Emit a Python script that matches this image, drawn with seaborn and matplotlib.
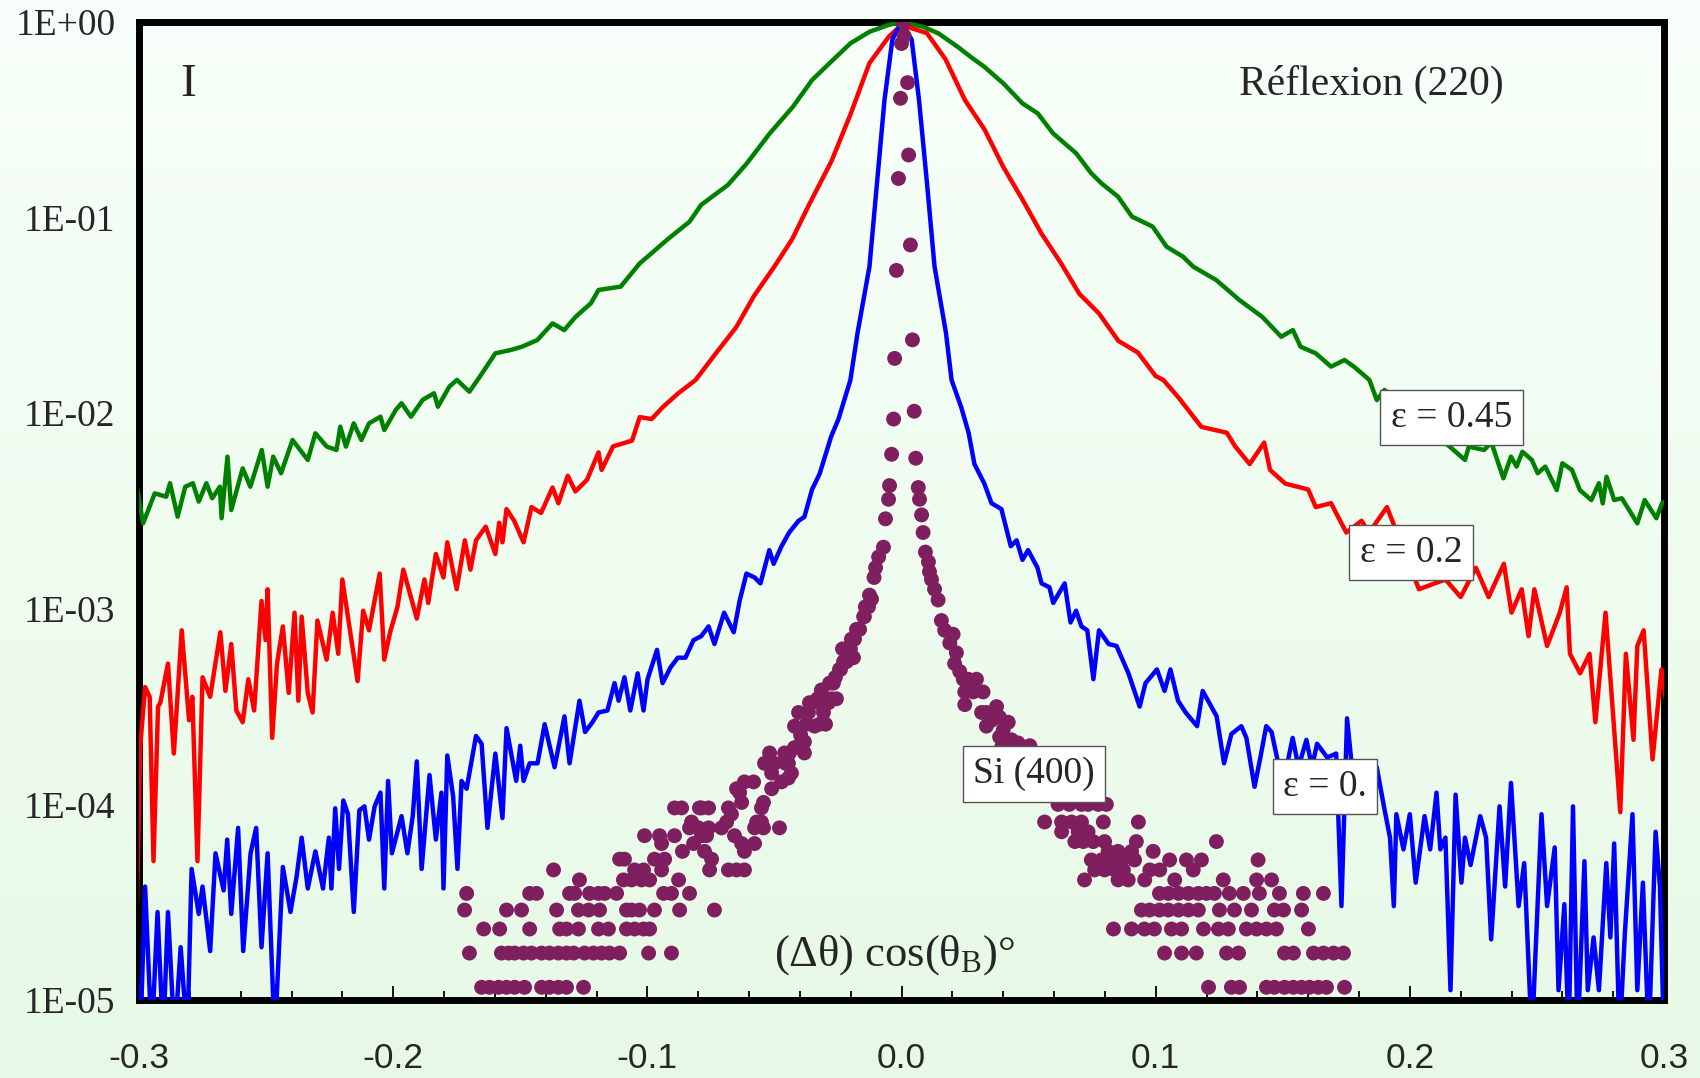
import numpy as np
import pandas as pd
import matplotlib
matplotlib.use("Agg")
import matplotlib.pyplot as plt
import seaborn as sns
from matplotlib.colors import LinearSegmentedColormap
from matplotlib.ticker import FixedLocator, MultipleLocator, NullLocator

# ---------------- data (x = (dtheta) cos(thetaB) in degrees, values = log10 of intensity) -------------
green_pts = [
    (-0.3006, -2.393), (-0.2984, -2.563), (-0.2938, -2.410), (-0.2893, -2.427), (-0.2878, -2.358),
    (-0.2848, -2.529), (-0.2818, -2.376), (-0.2788, -2.358), (-0.2765, -2.452), (-0.2735, -2.358),
    (-0.2712, -2.435), (-0.2682, -2.376), (-0.2675, -2.537), (-0.2652, -2.222), (-0.2637, -2.495),
    (-0.2592, -2.282), (-0.2562, -2.376), (-0.2517, -2.188), (-0.2494, -2.376), (-0.2472, -2.222),
    (-0.2441, -2.307), (-0.2396, -2.137), (-0.2336, -2.239), (-0.2306, -2.103), (-0.2261, -2.171),
    (-0.2223, -2.188), (-0.2208, -2.069), (-0.2186, -2.171), (-0.2155, -2.052), (-0.2125, -2.137),
    (-0.2095, -2.052), (-0.2050, -2.018), (-0.2035, -2.086), (-0.1990, -1.984), (-0.1967, -1.949),
    (-0.1930, -2.018), (-0.1884, -1.932), (-0.1839, -1.898), (-0.1824, -1.967), (-0.1779, -1.864),
    (-0.1749, -1.830), (-0.1700, -1.890), (-0.1659, -1.813), (-0.1598, -1.694), (-0.1538, -1.677),
    (-0.1493, -1.660), (-0.1433, -1.626), (-0.1373, -1.541), (-0.1327, -1.575), (-0.1282, -1.507),
    (-0.1222, -1.438), (-0.1192, -1.370), (-0.1105, -1.353), (-0.1030, -1.234), (-0.0984, -1.183),
    (-0.0924, -1.115), (-0.0834, -1.021), (-0.0789, -0.936), (-0.0683, -0.833), (-0.0608, -0.722),
    (-0.0518, -0.569), (-0.0427, -0.433), (-0.0352, -0.297), (-0.0277, -0.203), (-0.0201, -0.109),
    (-0.0126, -0.050), (-0.0051, -0.015), (0.0000, 0.000), (0.0085, -0.024), (0.0145, -0.058),
    (0.0220, -0.126), (0.0280, -0.186), (0.0325, -0.228), (0.0400, -0.313), (0.0476, -0.416),
    (0.0536, -0.467), (0.0596, -0.569), (0.0687, -0.671), (0.0747, -0.774), (0.0787, -0.825),
    (0.0852, -0.893), (0.0907, -0.995), (0.0988, -1.046), (0.1043, -1.149), (0.1108, -1.200),
    (0.1148, -1.251), (0.1238, -1.319), (0.1329, -1.421), (0.1419, -1.507), (0.1494, -1.609),
    (0.1540, -1.575), (0.1570, -1.660), (0.1630, -1.694), (0.1690, -1.762), (0.1743, -1.728),
    (0.1780, -1.762), (0.1841, -1.830), (0.1870, -1.933), (0.1900, -1.881), (0.2217, -2.239),
    (0.2232, -2.171), (0.2292, -2.188), (0.2321, -2.150), (0.2368, -2.333), (0.2398, -2.222),
    (0.2420, -2.273), (0.2443, -2.197), (0.2480, -2.239), (0.2503, -2.307), (0.2533, -2.273),
    (0.2578, -2.393), (0.2600, -2.256), (0.2638, -2.290), (0.2669, -2.393), (0.2714, -2.444),
    (0.2744, -2.358), (0.2759, -2.461), (0.2774, -2.325), (0.2804, -2.444), (0.2834, -2.435),
    (0.2895, -2.563), (0.2924, -2.444), (0.2970, -2.537), (0.2992, -2.461), (0.3015, -2.444),
    (0.3030, -2.610),
]

red_pts = [
    (-0.3008, -4.50), (-0.2995, -3.70), (-0.2976, -3.40), (-0.2958, -3.45), (-0.2943, -4.29),
    (-0.2925, -3.50), (-0.2916, -3.48), (-0.2886, -3.28), (-0.2863, -3.74), (-0.2832, -3.11),
    (-0.2803, -3.57), (-0.2790, -3.45), (-0.2770, -4.29), (-0.2750, -3.35), (-0.2720, -3.45),
    (-0.2680, -3.12), (-0.2660, -3.42), (-0.2637, -3.18), (-0.2617, -3.52), (-0.2592, -3.58),
    (-0.2570, -3.36), (-0.2547, -3.52), (-0.2518, -2.96), (-0.2502, -3.16), (-0.2494, -2.90),
    (-0.2476, -3.66), (-0.2457, -3.28), (-0.2434, -3.09), (-0.2411, -3.43), (-0.2388, -3.02),
    (-0.2373, -3.47), (-0.2360, -3.04), (-0.2336, -3.43), (-0.2317, -3.53), (-0.2298, -3.06),
    (-0.2262, -3.26), (-0.2238, -3.02), (-0.2216, -3.23), (-0.2200, -2.85), (-0.2178, -3.04),
    (-0.2140, -3.37), (-0.2118, -3.01), (-0.2095, -3.11), (-0.2053, -2.82), (-0.2035, -3.26),
    (-0.2012, -3.12), (-0.1983, -2.99), (-0.1960, -2.80), (-0.1907, -3.05), (-0.1877, -2.85),
    (-0.1862, -2.97), (-0.1832, -2.72), (-0.1802, -2.84), (-0.1787, -2.66), (-0.1750, -2.90),
    (-0.1718, -2.65), (-0.1696, -2.80), (-0.1674, -2.65), (-0.1636, -2.58), (-0.1598, -2.72),
    (-0.1583, -2.56), (-0.1570, -2.66), (-0.1554, -2.49), (-0.1524, -2.55), (-0.1487, -2.66),
    (-0.1456, -2.48), (-0.1418, -2.51), (-0.1373, -2.38), (-0.1350, -2.46), (-0.1313, -2.32),
    (-0.1283, -2.40), (-0.1237, -2.34), (-0.1192, -2.20), (-0.1180, -2.29), (-0.1135, -2.17),
    (-0.1060, -2.14), (-0.1030, -2.02), (-0.0983, -2.03), (-0.0940, -1.97), (-0.0880, -1.90),
    (-0.0810, -1.83), (-0.0728, -1.69), (-0.0650, -1.56), (-0.0580, -1.40), (-0.0500, -1.25),
    (-0.0430, -1.11), (-0.0366, -0.94), (-0.0275, -0.71), (-0.0200, -0.47), (-0.0126, -0.21),
    (-0.0050, -0.075), (0.0000, -0.015), (0.0100, -0.057), (0.0173, -0.19), (0.0250, -0.40),
    (0.0327, -0.55), (0.0400, -0.74), (0.0477, -0.91), (0.0550, -1.08), (0.0626, -1.23),
    (0.0700, -1.39), (0.0777, -1.49), (0.0853, -1.63), (0.0930, -1.69), (0.1000, -1.81),
    (0.1030, -1.83), (0.1090, -1.92), (0.1180, -2.07), (0.1280, -2.10), (0.1313, -2.17),
    (0.1370, -2.26), (0.1427, -2.15), (0.1450, -2.29), (0.1510, -2.36), (0.1600, -2.39),
    (0.1630, -2.48), (0.1690, -2.46), (0.1750, -2.61), (0.1810, -2.55), (0.1840, -2.61),
    (0.1910, -2.48), (0.2036, -2.90), (0.2140, -2.85), (0.2200, -2.94), (0.2260, -2.79),
    (0.2310, -2.94), (0.2370, -2.77), (0.2400, -3.02), (0.2440, -2.90), (0.2467, -3.14),
    (0.2490, -2.90), (0.2540, -3.19), (0.2590, -3.02), (0.2617, -2.89), (0.2630, -3.23),
    (0.2670, -3.33), (0.2707, -3.23), (0.2730, -3.58), (0.2770, -3.02), (0.2828, -4.04),
    (0.2850, -3.23), (0.2880, -3.67), (0.2895, -3.19), (0.2920, -3.11), (0.2955, -3.77),
    (0.2990, -3.31), (0.3015, -3.53),
]

blue_pts = [
    (-0.3014, -4.73), (-0.2995, -5.20), (-0.2976, -4.42), (-0.2950, -5.20), (-0.2927, -4.55),
    (-0.2905, -5.20), (-0.2886, -4.55), (-0.2860, -5.20), (-0.2836, -4.73), (-0.2810, -5.20),
    (-0.2793, -4.33), (-0.2765, -4.56), (-0.2750, -4.42), (-0.2720, -4.75), (-0.2699, -4.25),
    (-0.2667, -4.44), (-0.2653, -4.18), (-0.2637, -4.56), (-0.2610, -4.12), (-0.2590, -4.75),
    (-0.2561, -4.25), (-0.2539, -4.12), (-0.2518, -4.73), (-0.2494, -4.25), (-0.2466, -5.20),
    (-0.2434, -4.32), (-0.2404, -4.55), (-0.2380, -4.37), (-0.2360, -4.17), (-0.2336, -4.43),
    (-0.2306, -4.24), (-0.2276, -4.43), (-0.2253, -4.17), (-0.2243, -4.43), (-0.2228, -4.02),
    (-0.2213, -4.33), (-0.2196, -3.98), (-0.2178, -4.05), (-0.2155, -4.55), (-0.2133, -4.03),
    (-0.2113, -4.01), (-0.2095, -4.18), (-0.2073, -4.01), (-0.2050, -3.94), (-0.2035, -4.43),
    (-0.2020, -3.88), (-0.2005, -4.25), (-0.1967, -4.06), (-0.1944, -4.25), (-0.1923, -4.06),
    (-0.1907, -3.78), (-0.1888, -4.33), (-0.1857, -3.85), (-0.1832, -4.18), (-0.1810, -3.94),
    (-0.1802, -4.43), (-0.1787, -3.75), (-0.1764, -3.96), (-0.1747, -4.33), (-0.1731, -3.88),
    (-0.1711, -3.92), (-0.1674, -3.65), (-0.1652, -3.69), (-0.1629, -4.12), (-0.1598, -3.74),
    (-0.1570, -4.07), (-0.1554, -3.61), (-0.1516, -3.88), (-0.1500, -3.70), (-0.1487, -3.88),
    (-0.1463, -3.79), (-0.1432, -3.79), (-0.1404, -3.59), (-0.1365, -3.81), (-0.1326, -3.55),
    (-0.1306, -3.79), (-0.1267, -3.47), (-0.1245, -3.63), (-0.1216, -3.58), (-0.1192, -3.53),
    (-0.1157, -3.52), (-0.1129, -3.38), (-0.1113, -3.47), (-0.1090, -3.35), (-0.1067, -3.52),
    (-0.1038, -3.33), (-0.1015, -3.52), (-0.0999, -3.36), (-0.0962, -3.21), (-0.0940, -3.38),
    (-0.0909, -3.30), (-0.0880, -3.25), (-0.0850, -3.25), (-0.0818, -3.16), (-0.0788, -3.14),
    (-0.0759, -3.09), (-0.0736, -3.18), (-0.0698, -3.02), (-0.0660, -3.12), (-0.0637, -2.96),
    (-0.0610, -2.82), (-0.0578, -2.84), (-0.0555, -2.87), (-0.0520, -2.70), (-0.0503, -2.77),
    (-0.0472, -2.68), (-0.0442, -2.61), (-0.0405, -2.55), (-0.0382, -2.53), (-0.0352, -2.39),
    (-0.0322, -2.31), (-0.0277, -2.12), (-0.0248, -2.03), (-0.0201, -1.83), (-0.0173, -1.59),
    (-0.0126, -1.25), (-0.0096, -0.82), (-0.0067, -0.40), (-0.0036, -0.09), (0.0000, 0.00),
    (0.0040, -0.09), (0.0069, -0.40), (0.0100, -0.82), (0.0130, -1.25), (0.0175, -1.59),
    (0.0197, -1.83), (0.0235, -1.97), (0.0264, -2.10), (0.0287, -2.26), (0.0326, -2.36),
    (0.0354, -2.46), (0.0393, -2.49), (0.0430, -2.68), (0.0453, -2.65), (0.0476, -2.75),
    (0.0498, -2.70), (0.0535, -2.79), (0.0551, -2.87), (0.0582, -2.89), (0.0597, -2.97),
    (0.0642, -2.87), (0.0665, -3.07), (0.0687, -3.01), (0.0708, -3.09), (0.0731, -3.11),
    (0.0755, -3.36), (0.0777, -3.11), (0.0815, -3.18), (0.0846, -3.19), (0.0893, -3.33),
    (0.0937, -3.50), (0.0960, -3.38), (0.1005, -3.31), (0.1035, -3.42), (0.1058, -3.31),
    (0.1088, -3.47), (0.1118, -3.53), (0.1163, -3.60), (0.1185, -3.42), (0.1240, -3.55),
    (0.1269, -3.79), (0.1298, -3.64), (0.1337, -3.60), (0.1357, -3.66), (0.1389, -3.91),
    (0.1412, -3.76), (0.1435, -3.60), (0.1456, -3.63), (0.1479, -3.77), (0.1510, -3.84),
    (0.1539, -3.66), (0.1562, -3.81), (0.1593, -3.67), (0.1615, -3.81), (0.1635, -3.69),
    (0.1675, -3.76), (0.1710, -3.74), (0.1731, -4.52), (0.1753, -3.56), (0.1780, -3.91),
    (0.1870, -3.81), (0.1898, -4.01), (0.1922, -4.17), (0.1937, -4.52), (0.1947, -4.05),
    (0.1975, -4.23), (0.2000, -4.05), (0.2023, -4.40), (0.2058, -4.06), (0.2080, -4.23),
    (0.2105, -3.94), (0.2120, -4.23), (0.2140, -4.17), (0.2160, -4.95), (0.2180, -3.95),
    (0.2203, -4.40), (0.2217, -4.17), (0.2239, -4.31), (0.2277, -4.06), (0.2300, -4.17),
    (0.2320, -4.69), (0.2353, -4.01), (0.2375, -4.42), (0.2398, -3.89), (0.2428, -4.52),
    (0.2450, -4.30), (0.2480, -5.20), (0.2518, -4.05), (0.2540, -4.52), (0.2570, -4.22),
    (0.2585, -4.95), (0.2608, -4.51), (0.2625, -5.20), (0.2642, -4.01), (0.2660, -5.20),
    (0.2687, -4.29), (0.2700, -4.95), (0.2723, -4.68), (0.2744, -4.95), (0.2773, -4.30),
    (0.2789, -4.68), (0.2804, -4.20), (0.2825, -5.20), (0.2846, -4.66), (0.2876, -4.05),
    (0.2895, -4.95), (0.2917, -4.40), (0.2940, -5.20), (0.2967, -4.14), (0.2984, -4.42),
    (0.3000, -5.20),
]

# Si (400) reference: individually read dots (x, log10 I)
si_pts = [
    (0.0007, 0.00), (0.0000, -0.11), (-0.0004, -0.39), (-0.0012, -0.80), (-0.0020, -1.27),
    (-0.0027, -1.72), (-0.0031, -2.03), (-0.0039, -2.21), (-0.0047, -2.37), (-0.0051, -2.44),
    (-0.0063, -2.54), (-0.0071, -2.685), (-0.0090, -2.735), (-0.0102, -2.79), (-0.0108, -2.84),
    (-0.0118, -2.95), (-0.0126, -2.93), (-0.0130, -2.99), (-0.0142, -2.99), (-0.0146, -3.04),
    (-0.0149, -3.04), (-0.0165, -3.105), (-0.0177, -3.105), (-0.0185, -3.155), (-0.0197, -3.155),
    (-0.0189, -3.25), (-0.0201, -3.205), (-0.0216, -3.205), (-0.0232, -3.205), (-0.0216, -3.27),
    (-0.0228, -3.27), (-0.0240, -3.31), (-0.0244, -3.31), (-0.0260, -3.35), (-0.0268, -3.38),
    (-0.0283, -3.38), (-0.0315, -3.415), (-0.0256, -3.46), (-0.0275, -3.46), (-0.0330, -3.46),
    (-0.0287, -3.48), (-0.0327, -3.48), (-0.0362, -3.48), (-0.0307, -3.53), (-0.0366, -3.53),
    (-0.0405, -3.53), (-0.0299, -3.59), (-0.0323, -3.59), (-0.0374, -3.59), (-0.0342, -3.60),
    (-0.0421, -3.60), (-0.0397, -3.645), (-0.0382, -3.68), (-0.0393, -3.68), (-0.0421, -3.71),
    (-0.0382, -3.737), (-0.0441, -3.737), (-0.0460, -3.737), (-0.0519, -3.737), (-0.0445, -3.79),
    (-0.0456, -3.79), (-0.0500, -3.79), (-0.0523, -3.79), (-0.0539, -3.79), (-0.0433, -3.84),
    (-0.0511, -3.84), (-0.0445, -3.865), (-0.0472, -3.885), (-0.0582, -3.885), (-0.0618, -3.885),
    (-0.0511, -3.92), (-0.0649, -3.92), (-0.0637, -3.94), (-0.0543, -3.99), (-0.0629, -3.99),
    (-0.0551, -4.018), (-0.0681, -4.018), (-0.0759, -4.018), (-0.0787, -4.018), (-0.0795, -4.018),
    (-0.0865, -4.018), (-0.0893, -4.018), (-0.0669, -4.05), (-0.0551, -4.09), (-0.0570, -4.09),
    (-0.0688, -4.09), (-0.0826, -4.09), (-0.0480, -4.12), (-0.0543, -4.12), (-0.0578, -4.12),
    (-0.0708, -4.12), (-0.0759, -4.12), (-0.0799, -4.12), (-0.0834, -4.12), (-0.0657, -4.16),
    (-0.0767, -4.16), (-0.0787, -4.16), (-0.0893, -4.16), (-0.0952, -4.16), (-0.1011, -4.16),
    (-0.0578, -4.20), (-0.0629, -4.20), (-0.0818, -4.20), (-0.0944, -4.20), (-0.0618, -4.24),
    (-0.0775, -4.24), (-0.0862, -4.24), (-0.0747, -4.28), (-0.0932, -4.28), (-0.0972, -4.28),
    (-0.1090, -4.28), (-0.1109, -4.28),
    (0.0010, -0.07), (0.0024, -0.31), (0.0028, -0.68), (0.0035, -1.14), (0.0043, -1.625),
    (0.0050, -1.99), (0.0056, -2.23), (0.0066, -2.38), (0.0071, -2.44), (0.0079, -2.52),
    (0.0085, -2.61), (0.0094, -2.71), (0.0106, -2.76), (0.0110, -2.81), (0.0118, -2.85),
    (0.0130, -2.90), (0.0144, -2.955), (0.0157, -3.06), (0.0170, -3.11), (0.0203, -3.13),
    (0.0190, -3.175), (0.0216, -3.225), (0.0209, -3.28), (0.0229, -3.32), (0.0243, -3.36),
    (0.0262, -3.36), (0.0295, -3.36), (0.0249, -3.425), (0.0282, -3.425), (0.0321, -3.425),
    (0.0249, -3.49), (0.0374, -3.50), (0.0315, -3.53), (0.0334, -3.53), (0.0386, -3.555),
    (0.0354, -3.57), (0.0420, -3.58), (0.0334, -3.60), (0.0400, -3.62), (0.0386, -3.655),
    (0.0433, -3.67), (0.0459, -3.686), (0.0505, -3.70), (0.0393, -3.71), (0.0405, -3.71),
    (0.0616, -4.00), (0.0660, -4.00), (0.0708, -4.00), (0.0734, -4.00), (0.0774, -4.00),
    (0.0806, -4.00), (0.0563, -4.09), (0.0630, -4.09), (0.0669, -4.09), (0.0708, -4.09),
    (0.0794, -4.09), (0.0932, -4.09), (0.0630, -4.14), (0.0695, -4.14), (0.0734, -4.14),
    (0.0682, -4.19), (0.0715, -4.19), (0.0754, -4.19), (0.0799, -4.19), (0.0924, -4.19),
    (0.1239, -4.19), (0.0813, -4.24), (0.0852, -4.24), (0.0905, -4.24), (0.0990, -4.24),
]

# Si (400) low-count tail: discrete intensity levels (log10 I) and the x positions of the dots on each
si_levels = [-4.284, -4.335, -4.386, -4.455, -4.54, -4.637, -4.76, -4.935]
si_level_x = [
    [0.0747, 0.0787, 0.0826, 0.0865, 0.0917, 0.1055, 0.1121, 0.1180, 0.1403],
    [-0.0618, -0.0649, -0.0681, -0.0755, -0.0944, -0.1015, -0.1050, -0.1369,
     0.0760, 0.0799, 0.0840, 0.0873, 0.0977, 0.1016, 0.1148],
    [-0.0877, -0.0991, -0.1023, -0.1062, -0.1094, -0.1267,
     0.0720, 0.0852, 0.0892, 0.0957, 0.1075, 0.1266, 0.1397, 0.1456],
    [-0.0834, -0.0905, -0.0936, -0.1121, -0.1168, -0.1192, -0.1227, -0.1286, -0.1306, -0.1436,
     -0.1463, -0.1711,
     0.1015, 0.1050, 0.1090, 0.1129, 0.1168, 0.1200, 0.1231, 0.1290, 0.1345, 0.1408, 0.1487,
     0.1581, 0.1660],
    [-0.0736, -0.0873, -0.0972, -0.1031, -0.1062, -0.1082, -0.1188, -0.1231, -0.1271, -0.1357,
     -0.1495, -0.1554, -0.1719,
     0.0944, 0.0976, 0.1015, 0.1050, 0.1090, 0.1129, 0.1168, 0.1251, 0.1310, 0.1377, 0.1467,
     0.1503, 0.1574],
    [-0.0991, -0.1015, -0.1050, -0.1082, -0.1153, -0.1192, -0.1271, -0.1318, -0.1345, -0.1463,
     -0.1581, -0.1644,
     0.0834, 0.0905, 0.0956, 0.0995, 0.1062, 0.1102, 0.1188, 0.1247, 0.1286, 0.1357, 0.1397,
     0.1436, 0.1475, 0.1601],
    [-0.0905, -0.0995, -0.1109, -0.1149, -0.1180, -0.1212, -0.1247, -0.1290, -0.1318, -0.1350,
     -0.1385, -0.1416, -0.1456, -0.1487, -0.1522, -0.1546, -0.1574, -0.1700,
     0.1035, 0.1102, 0.1160, 0.1279, 0.1326, 0.1507, 0.1542, 0.1621, 0.1660, 0.1700, 0.1739],
    [-0.1251, -0.1318, -0.1350, -0.1385, -0.1416, -0.1483, -0.1522, -0.1554, -0.1585, -0.1621,
     -0.1652,
     0.1208, 0.1298, 0.1330, 0.1436, 0.1467, 0.1507, 0.1542, 0.1574, 0.1605, 0.1640, 0.1672,
     0.1743],
]

x_ticks = [-0.3, -0.2, -0.1, 0.0, 0.1, 0.2, 0.3]
x_tick_labels = ["-0.3", "-0.2", "-0.1", "0.0", "0.1", "0.2", "0.3"]
y_ticks = [1e0, 1e-1, 1e-2, 1e-3, 1e-4, 1e-5]
y_tick_labels = ["1E+00", "1E-01", "1E-02", "1E-03", "1E-04", "1E-05"]

labels = {
    "eps045": "ε = 0.45",
    "eps02": "ε = 0.2",
    "eps0": "ε = 0.",
    "si": "Si (400)",
    "title": "Réflexion (220)",
    "I": "I",
}

# ---------------- build tables ----------------
def to_df(pts):
    a = np.array(pts)
    return pd.DataFrame({"x": a[:, 0], "I": np.power(10.0, a[:, 1])})

df_green = to_df(green_pts)
df_red = to_df(red_pts)
df_blue = to_df(blue_pts)
si_all = list(si_pts)
for lev, xs in zip(si_levels, si_level_x):
    si_all += [(xv, lev) for xv in xs]
df_si = to_df(si_all)

# ---------------- style ----------------
sns.set_style("white")
plt.rcParams["font.family"] = ["Liberation Serif", "DejaVu Serif"]
plt.rcParams["mathtext.fontset"] = "custom"
plt.rcParams["mathtext.rm"] = "Liberation Serif"
plt.rcParams["mathtext.it"] = "Liberation Serif:italic"

W, H = 1700, 1078
fig = plt.figure(figsize=(W / 100, H / 100), dpi=100)

# gradient background
bg = fig.add_axes([0, 0, 1, 1], zorder=-10)
grad = np.linspace(0, 1, 256).reshape(-1, 1)
cmap = LinearSegmentedColormap.from_list("bg", ["#f8fffa", "#e7f9e6"])
bg.imshow(grad, aspect="auto", cmap=cmap, extent=[0, 1, 0, 1], origin="upper")
bg.set_axis_off()

left, right, top, bottom = 139 / W, 1664 / W, 1 - 22 / H, 1 - 1000 / H
ax = fig.add_axes([left, bottom, right - left, top - bottom])
ax.patch.set_alpha(0)

lw = 3.2
line_kw = dict(sort=False, estimator=None, ax=ax, linewidth=lw,
               solid_joinstyle="round", solid_capstyle="round")
sns.lineplot(data=df_green, x="x", y="I", color="#008000", zorder=3, **line_kw)
sns.lineplot(data=df_red, x="x", y="I", color="#ff0000", zorder=3.1, **line_kw)
sns.lineplot(data=df_blue, x="x", y="I", color="#0000ff", zorder=3.2, **line_kw)
sns.scatterplot(data=df_si, x="x", y="I", color="#7f1f5f", s=115, edgecolor="none",
                linewidth=0, ax=ax, zorder=4)

ax.set_yscale("log")
ax.set_xlim(-0.3, 0.3)
ax.set_ylim(1e-5, 1.0)

ax.xaxis.set_major_locator(FixedLocator(x_ticks))
ax.set_xticklabels(x_tick_labels)
ax.xaxis.set_minor_locator(MultipleLocator(0.02))
ax.yaxis.set_major_locator(FixedLocator(y_ticks))
ax.set_yticklabels(y_tick_labels)
ax.yaxis.set_minor_locator(NullLocator())

ax.tick_params(axis="x", which="major", direction="in", length=10, width=1.3,
               pad=30, labelsize=25.5, bottom=True, top=False, color="black")
ax.tick_params(axis="x", which="minor", direction="in", length=6.5, width=1.3,
               bottom=True, top=False, color="black")
ax.tick_params(axis="y", which="both", length=0, pad=17, labelsize=27, left=True)
for lab in ax.get_xticklabels():
    lab.set_fontfamily(["Liberation Sans", "DejaVu Sans"])
for lab in ax.get_yticklabels():
    lab.set_fontfamily(["Liberation Serif", "DejaVu Serif"])

ax.set_xlabel("")
ax.set_ylabel("")
for sp in ax.spines.values():
    sp.set_visible(True)
    sp.set_color("black")
    sp.set_linewidth(5)
    sp.set_zorder(2.5)

box = dict(boxstyle="square,pad=0.28", facecolor="white", edgecolor="#555555", linewidth=1.0)
ax.text(0.2164, 9.5e-3, labels["eps045"], ha="center", va="center", fontsize=27, bbox=box, zorder=6)
ax.text(0.2004, 1.94e-3, labels["eps02"], ha="center", va="center", fontsize=27, bbox=box, zorder=6)
ax.text(0.1666, 1.235e-4, labels["eps0"], ha="center", va="center", fontsize=27, bbox=box, zorder=6)
ax.text(0.0521, 1.43e-4, labels["si"], ha="center", va="center", fontsize=27, bbox=box, zorder=6)
ax.text(0.1849, 0.48, labels["title"], ha="center", va="center", fontsize=30, zorder=6)
ax.text(-0.2807, 0.48, labels["I"], ha="center", va="center", fontsize=34, zorder=6)
ax.text(-0.0028, 1.7e-5, r"(Δθ) cos(θ$_\mathregular{B}$)°", ha="center", va="center",
        fontsize=32, zorder=6)

fig.savefig("out.png", dpi=100)
